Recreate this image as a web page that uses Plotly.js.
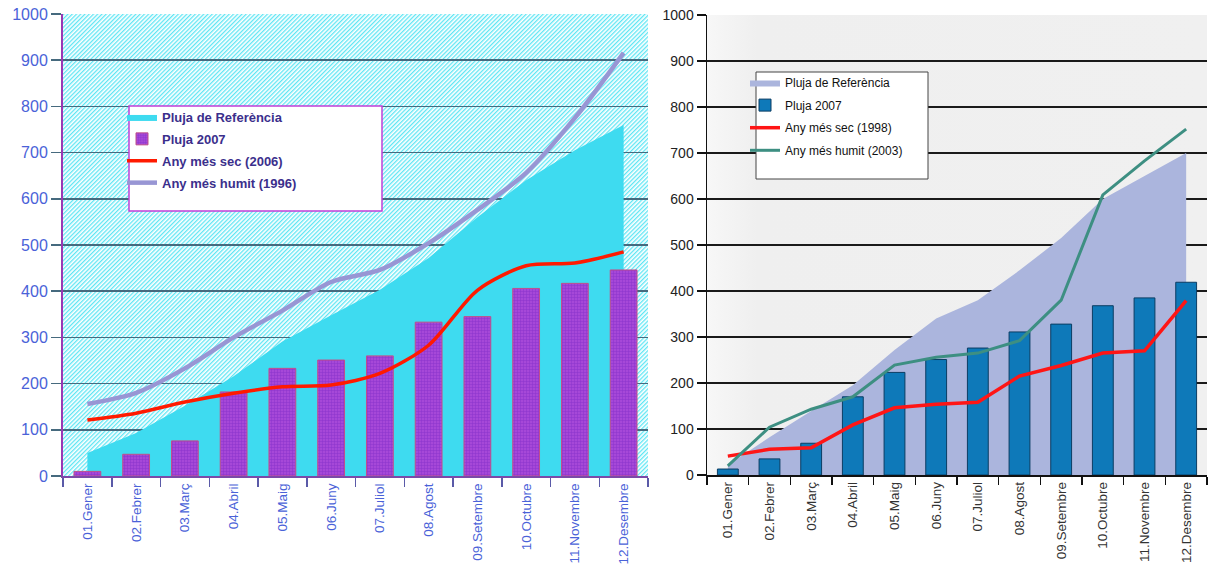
<!DOCTYPE html>
<html>
<head>
<meta charset="utf-8">
<script src="https://cdn.plot.ly/plotly-3.0.1.min.js"></script>
<style>html,body{margin:0;padding:0;background:#fff;}#chart{width:1215px;height:564px;}</style>
</head>
<body>
<div id="chart"></div>
<script>
// Categories
const months = ['01.Gener','02.Febrer','03.Març','04.Abril','05.Maig','06.Juny','07.Juliol','08.Agost','09.Setembre','10.Octubre','11.Novembre','12.Desembre'];

// Left chart series
const refLeft = [50, 93, 152, 216, 291, 348, 403, 472, 560, 640, 705, 760];
const pluja2007Left = [10, 47, 76, 182, 233, 251, 260, 333, 345, 406, 417, 446];
const sec2006 = [121, 136, 160, 179, 193, 197, 222, 283, 402, 455, 461, 485];
const humit1996 = [156, 180, 233, 300, 358, 420, 446, 504, 576, 656, 775, 916];

// Right chart series
const refRight = [22, 82, 139, 195, 272, 340, 380, 445, 515, 600, 650, 700];
const pluja2007Right = [13, 35, 69, 170, 223, 251, 276, 311, 328, 368, 385, 419];
const sec1998 = [41, 56, 59, 109, 146, 154, 158, 215, 238, 265, 270, 379];
const humit2003 = [20, 104, 143, 170, 239, 256, 265, 292, 380, 609, 683, 752];

// Tick values
const yTicks = [0,100,200,300,400,500,600,700,800,900,1000];

const W = 1215, H = 564;

const traces = [
  {x: months, y: refLeft, xaxis:'x', yaxis:'y', type:'scatter', mode:'lines', fill:'tozeroy',
   fillcolor:'#3edbf0', line:{width:0, color:'#3edbf0'}, name:'Pluja de Referència', legend:'legend', legendgroup:'a1', hoverinfo:'skip'},
  {x: months, y: pluja2007Left, xaxis:'x', yaxis:'y3', type:'bar', width:0.55,
   marker:{color:'#a444d6', line:{color:'#c0508a', width:1},
           pattern:{shape:'+', size:3, fgcolor:'#8a34cc', bgcolor:'#a648d8', solidity:0.3}},
   name:'Pluja 2007', legend:'legend', legendgroup:'a2'},
  {x: months, y: sec2006, xaxis:'x', yaxis:'y3', type:'scatter', mode:'lines',
   line:{color:'#ff1a00', width:3.5, shape:'spline', smoothing:0.8}, name:'Any més sec (2006)', legend:'legend', legendgroup:'a3'},
  {x: months, y: humit1996, xaxis:'x', yaxis:'y3', type:'scatter', mode:'lines',
   line:{color:'#9896d4', width:4.5, shape:'spline', smoothing:0.8}, name:'Any més humit (1996)', legend:'legend', legendgroup:'a4'},

  {x: months, y: refRight, xaxis:'x2', yaxis:'y2', type:'scatter', mode:'lines', fill:'tozeroy',
   fillcolor:'#abb5dd', line:{width:0, color:'#abb5dd'}, name:'Pluja de Referència', legend:'legend2', legendgroup:'b1', hoverinfo:'skip'},
  {x: months, y: pluja2007Right, xaxis:'x2', yaxis:'y4', type:'bar', width:0.5,
   marker:{color:'#0e79b9', line:{color:'#0b3d63', width:1}}, name:'Pluja 2007', legend:'legend2', legendgroup:'b2'},
  {x: months, y: sec1998, xaxis:'x2', yaxis:'y4', type:'scatter', mode:'lines',
   line:{color:'#ff1515', width:3.5}, name:'Any més sec (1998)', legend:'legend2', legendgroup:'b3'},
  {x: months, y: humit2003, xaxis:'x2', yaxis:'y4', type:'scatter', mode:'lines',
   line:{color:'#3d8f82', width:3}, name:'Any més humit (2003)', legend:'legend2', legendgroup:'b4'}
];

const hatchSvg = "<svg xmlns='http://www.w3.org/2000/svg' width='585' height='462'>" +
  "<defs><pattern id='p' width='3' height='3' patternUnits='userSpaceOnUse' patternTransform='rotate(45)'>" +
  "<rect width='3' height='3' fill='#ffffff'/><rect width='1.3' height='3' fill='#5fe6f4'/></pattern></defs>" +
  "<rect width='100%' height='100%' fill='url(#p)'/></svg>";
const hatchUri = 'data:image/svg+xml;charset=utf-8,' + encodeURIComponent(hatchSvg);

const grayBgSvg = "<svg xmlns='http://www.w3.org/2000/svg' width='500' height='460'>" +
  "<defs><linearGradient id='g' x1='0' y1='0' x2='1' y2='0'>" +
  "<stop offset='0' stop-color='#f7f7f7'/><stop offset='0.1' stop-color='#efefef'/><stop offset='1' stop-color='#f0f0f0'/></linearGradient></defs>" +
  "<rect width='100%' height='100%' fill='url(#g)'/></svg>";
const grayUri = 'data:image/svg+xml;charset=utf-8,' + encodeURIComponent(grayBgSvg);

const layout = {
  width: W, height: H,
  margin: {l:0, r:0, t:0, b:0},
  paper_bgcolor: '#ffffff',
  plot_bgcolor: 'rgba(0,0,0,0)',
  font: {family: 'Arial, Liberation Sans, sans-serif'},
  barmode: 'overlay',
  xaxis: {
    domain: [63/W, 648/W], anchor: 'y', type: 'category', range: [-0.5, 11.5],
    showline: true, linecolor: '#7a4aa8', linewidth: 2, mirror: false,
    ticks: 'outside', tickson: 'boundaries', ticklen: 9, tickcolor: '#5a5aa8', tickwidth: 1.5,
    tickangle: -90, tickfont: {size: 13.5, color: '#4a62d8', family: 'Arial, Liberation Sans'},
    showgrid: false, zeroline: false, fixedrange: true
  },
  yaxis: {
    domain: [(H-476)/H, (H-14)/H], anchor: 'x', range: [0, 1000], tickvals: yTicks,
    showline: true, linecolor: '#9a38b4', linewidth: 2,
    ticks: 'outside', ticklen: 10, tickcolor: '#466a7e', tickwidth: 1.5,
    showgrid: true, gridcolor: '#466a7e', gridwidth: 1.5, zeroline: false,
    tickfont: {size: 16, color: '#4a62d8', family: 'Arial, Liberation Sans'}, fixedrange: true
  },
  yaxis3: {
    overlaying: 'y', anchor: 'x', range: [0, 1000], visible: false, showgrid: false, zeroline: false, fixedrange: true
  },
  xaxis2: {
    domain: [707/W, 1207/W], anchor: 'y2', type: 'category', range: [-0.5, 11.5],
    showline: true, linecolor: '#111', linewidth: 1.5,
    ticks: 'outside', tickson: 'boundaries', ticklen: 8, tickcolor: '#111', tickwidth: 1.5,
    tickangle: -90, tickfont: {size: 13.5, color: '#333', family: 'Arial, Liberation Sans'},
    showgrid: false, zeroline: false, fixedrange: true
  },
  yaxis2: {
    domain: [(H-475)/H, (H-15)/H], anchor: 'x2', range: [0, 1000], tickvals: yTicks,
    showline: true, linecolor: '#111', linewidth: 1.5,
    ticks: 'outside', ticklen: 9, tickcolor: '#111', tickwidth: 1.5,
    showgrid: true, gridcolor: '#1a1a1a', gridwidth: 1.2, zeroline: false,
    tickfont: {size: 14, color: '#222', family: 'Arial, Liberation Sans'}, fixedrange: true
  },
  yaxis4: {
    overlaying: 'y2', anchor: 'x2', range: [0, 1000], visible: false, showgrid: false, zeroline: false, fixedrange: true
  },
  images: [
    {source: hatchUri, xref: 'x domain', yref: 'y domain', x: 0, y: 1, sizex: 1, sizey: 1,
     xanchor: 'left', yanchor: 'top', sizing: 'stretch', layer: 'below'},
    {source: grayUri, xref: 'x2 domain', yref: 'y2 domain', x: 0, y: 1, sizex: 1, sizey: 1,
     xanchor: 'left', yanchor: 'top', sizing: 'stretch', layer: 'below'}
  ],
  shapes: [
    {type: 'rect', xref: 'paper', yref: 'paper', x0: 129/W, x1: 382/W, y0: 1-211/H, y1: 1-106/H,
     fillcolor: '#ffffff', line: {color: '#c040d8', width: 1.5}, layer: 'above'},
    {type: 'rect', xref: 'paper', yref: 'paper', x0: 756/W, x1: 928/W, y0: 1-179/H, y1: 1-72/H,
     fillcolor: '#ffffff', line: {color: '#444', width: 1}, layer: 'above'}
  ],
  legend: {
    x: 122/W, y: 1-102/H, xanchor: 'left', yanchor: 'top',
    bgcolor: 'rgba(0,0,0,0)', borderwidth: 0, tracegroupgap: 2,
    font: {size: 13, color: '#3b2f8c', family: 'Arial, Liberation Sans', weight: 'bold'},
    traceorder: 'grouped'
  },
  legend2: {
    x: 745/W, y: 1-68/H, xanchor: 'left', yanchor: 'top',
    bgcolor: 'rgba(0,0,0,0)', borderwidth: 0, tracegroupgap: 3.6,
    font: {size: 12, color: '#111', family: 'Arial, Liberation Sans'},
    traceorder: 'grouped'
  },
  showlegend: true
};

Plotly.newPlot('chart', traces, layout, {staticPlot: true, displayModeBar: false});
</script>
</body>
</html>
